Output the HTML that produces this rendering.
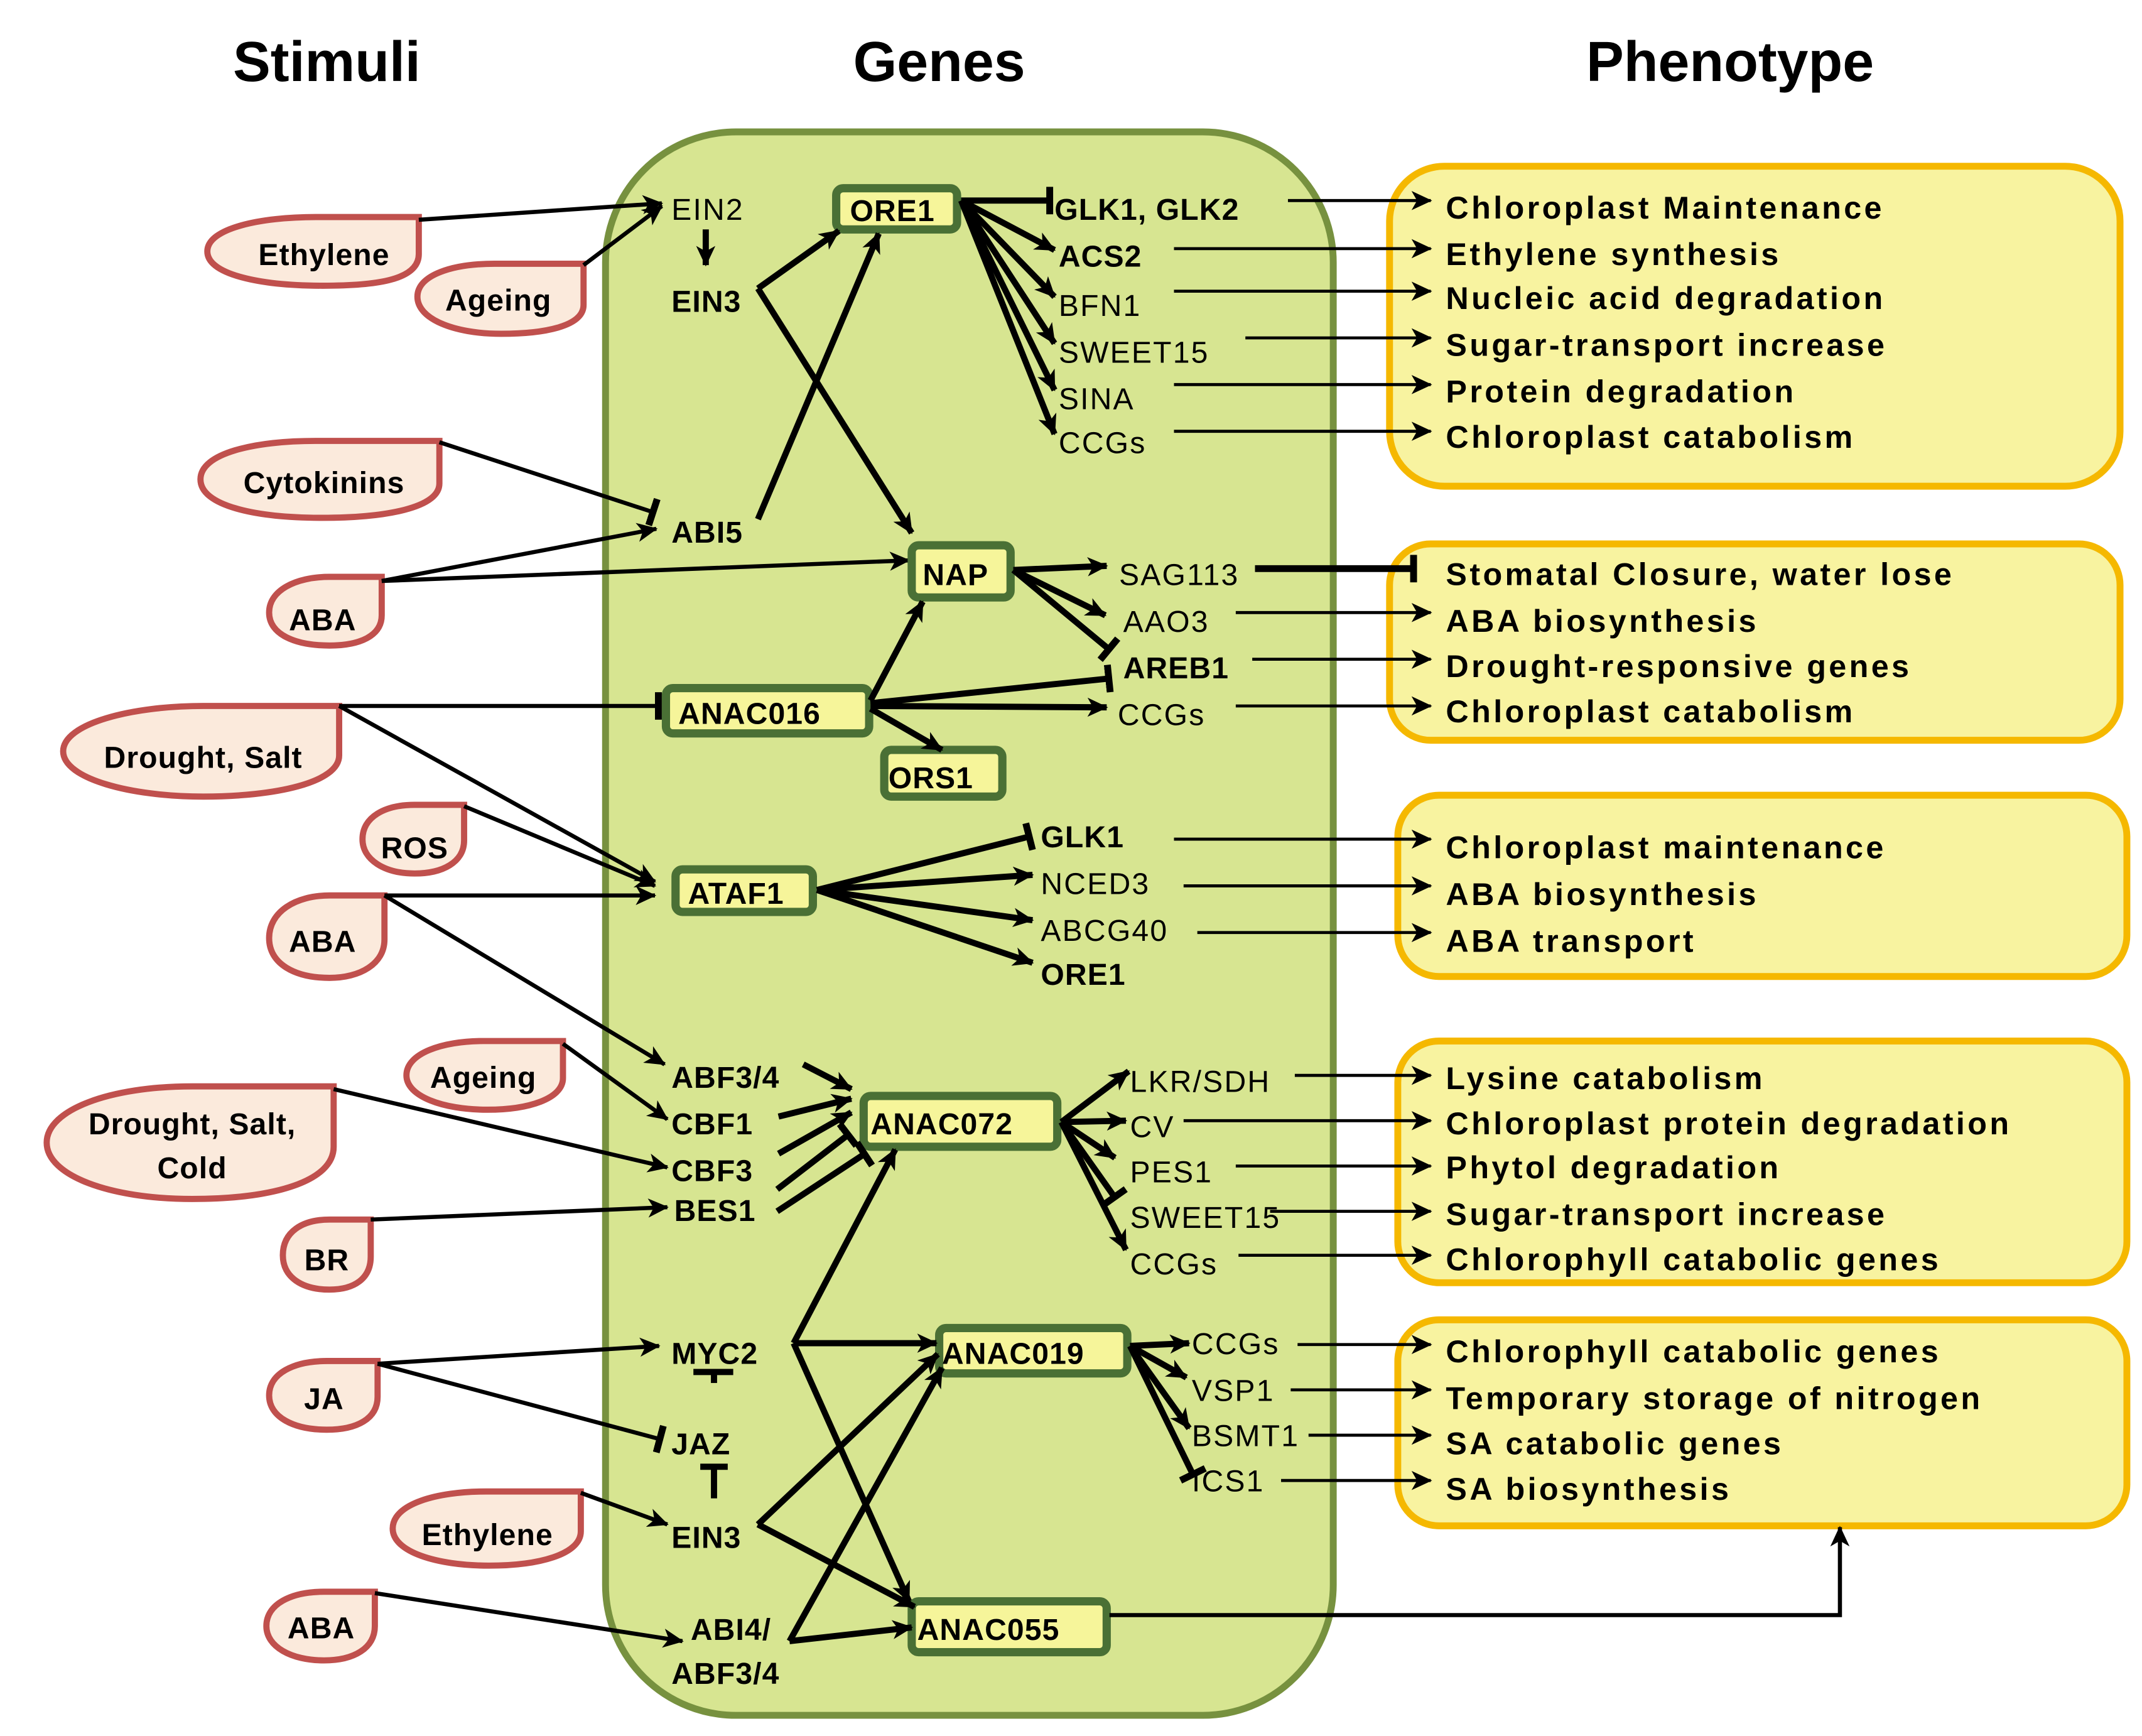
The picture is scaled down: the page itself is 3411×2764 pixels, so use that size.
<!DOCTYPE html>
<html><head><meta charset="utf-8"><style>
html,body{margin:0;padding:0;background:#fff;}
svg{display:block;}
text{font-family:"Liberation Sans",Arial,sans-serif;fill:#000;}
.t{font-size:41px;font-weight:bold;text-anchor:middle;}
.s{font-size:22px;font-weight:bold;text-anchor:middle;letter-spacing:0.5px;}
.g{font-size:22px;letter-spacing:1px;}
.gb{font-size:22px;font-weight:bold;letter-spacing:0.5px;}
.p{font-size:23px;font-weight:bold;letter-spacing:2px;}
.st{fill:#fbeadc;stroke:#c0504d;stroke-width:4.5;}
.bx{fill:#f6f59a;stroke:#4a7035;stroke-width:6;}
.ph{fill:#f8f3a0;stroke:#f5b800;stroke-width:5;}
.l{stroke:#000;stroke-width:3;fill:none;}
.k{stroke:#000;stroke-width:4.5;fill:none;}
.n{stroke:#000;stroke-width:2.2;fill:none;}
</style></head><body>
<svg width="3411" height="2764" viewBox="0 0 1560 1264" xmlns="http://www.w3.org/2000/svg">
<defs>
<marker id="a" markerUnits="userSpaceOnUse" markerWidth="20" markerHeight="20" refX="14" refY="7" orient="auto"><path d="M0,0 L15,7 L0,14 L4,7 Z" fill="#000"/></marker>
<marker id="t" markerUnits="userSpaceOnUse" markerWidth="10" markerHeight="24" refX="3" refY="12" orient="auto"><rect x="0" y="2" width="5" height="20" fill="#000"/></marker>
</defs>

<text class="t" x="238" y="59">Stimuli</text>
<text class="t" x="684" y="59">Genes</text>
<text class="t" x="1260" y="59">Phenotype</text>

<rect x="441" y="96" width="530" height="1153" rx="95" fill="#d7e591" stroke="#77913f" stroke-width="5"/>

<rect class="ph" x="1012" y="121" width="532" height="233" rx="40"/>
<rect class="ph" x="1012" y="396" width="532" height="143" rx="30"/>
<rect class="ph" x="1018" y="579" width="531" height="132" rx="30"/>
<rect class="ph" x="1018" y="758" width="531" height="176" rx="30"/>
<rect class="ph" x="1018" y="961" width="531" height="150" rx="30"/>

<g>
<path class="st" d="M305,158 V185 C305,205 270,208 235,208 C190,208 151,200 151,183 C151,166 190,158 230,158 Z"/>
<path class="st" d="M425,192 V222 C425,238 395,243 365,243 C330,243 304,232 304,216 C304,200 330,192 360,192 Z"/>
<path class="st" d="M320,321 V352 C320,370 280,377 235,377 C185,377 146,368 146,349 C146,330 185,321 230,321 Z"/>
<path class="st" d="M278,420 V448 C278,463 262,470 240,470 C215,470 196,462 196,446 C196,430 215,420 240,420 Z"/>
<path class="st" d="M247,514 V550 C247,570 200,580 148,580 C95,580 46,567 46,547 C46,527 95,514 148,514 Z"/>
<path class="st" d="M338,586 V612 C338,628 322,636 302,636 C280,636 264,626 264,611 C264,595 280,586 302,586 Z"/>
<path class="st" d="M280,652 V684 C280,702 262,712 240,712 C215,712 196,702 196,683 C196,664 215,652 240,652 Z"/>
<path class="st" d="M410,758 V785 C410,800 385,808 355,808 C322,808 296,798 296,783 C296,767 322,758 352,758 Z"/>
<path class="st" d="M243,791 V835 C243,860 200,873 140,873 C80,873 34,856 34,832 C34,808 80,791 140,791 Z"/>
<path class="st" d="M270,888 V915 C270,931 258,939 240,939 C220,939 206,930 206,914 C206,897 220,888 240,888 Z"/>
<path class="st" d="M275,991 V1017 C275,1033 260,1041 238,1041 C214,1041 196,1032 196,1016 C196,1000 214,991 238,991 Z"/>
<path class="st" d="M423,1086 V1115 C423,1132 392,1140 356,1140 C318,1140 286,1130 286,1113 C286,1095 318,1086 354,1086 Z"/>
<path class="st" d="M273,1159 V1184 C273,1200 258,1209 236,1209 C212,1209 194,1199 194,1184 C194,1168 212,1159 236,1159 Z"/>
</g>
<text class="s" x="236" y="193">Ethylene</text>
<text class="s" x="363" y="226">Ageing</text>
<text class="s" x="236" y="359">Cytokinins</text>
<text class="s" x="235" y="459">ABA</text>
<text class="s" x="148" y="559">Drought, Salt</text>
<text class="s" x="302" y="625">ROS</text>
<text class="s" x="235" y="693">ABA</text>
<text class="s" x="352" y="792">Ageing</text>
<text class="s" x="140" y="826">Drought, Salt,</text>
<text class="s" x="140" y="858">Cold</text>
<text class="s" x="238" y="925">BR</text>
<text class="s" x="236" y="1026">JA</text>
<text class="s" x="355" y="1125">Ethylene</text>
<text class="s" x="234" y="1193">ABA</text>

<g class="l">
<line x1="305" y1="160" x2="482" y2="148" marker-end="url(#a)"/>
<line x1="425" y1="193" x2="482" y2="150" marker-end="url(#a)"/>
<line x1="320" y1="322" x2="476" y2="373" marker-end="url(#t)"/>
<line x1="278" y1="423" x2="478" y2="385" marker-end="url(#a)"/>
<line x1="278" y1="423" x2="662" y2="408" marker-end="url(#a)"/>
<line x1="247" y1="514" x2="480" y2="514" marker-end="url(#t)"/>
<line x1="247" y1="514" x2="477" y2="642" marker-end="url(#a)"/>
<line x1="338" y1="587" x2="477" y2="645" marker-end="url(#a)"/>
<line x1="280" y1="652" x2="477" y2="652" marker-end="url(#a)"/>
<line x1="280" y1="652" x2="484" y2="775" marker-end="url(#a)"/>
<line x1="410" y1="760" x2="486" y2="815" marker-end="url(#a)"/>
<line x1="243" y1="793" x2="486" y2="850" marker-end="url(#a)"/>
<line x1="270" y1="888" x2="486" y2="879" marker-end="url(#a)"/>
<line x1="275" y1="993" x2="480" y2="980" marker-end="url(#a)"/>
<line x1="275" y1="993" x2="481" y2="1048" marker-end="url(#t)"/>
<line x1="423" y1="1087" x2="486" y2="1110" marker-end="url(#a)"/>
<line x1="273" y1="1160" x2="497" y2="1195" marker-end="url(#a)"/>
</g>

<rect class="bx" x="609" y="137" width="88" height="30" rx="5"/>
<rect class="bx" x="664" y="397" width="72" height="38" rx="5"/>
<rect class="bx" x="485" y="501" width="148" height="33" rx="5"/>
<rect class="bx" x="644" y="546" width="86" height="34" rx="5"/>
<rect class="bx" x="492" y="633" width="100" height="31" rx="5"/>
<rect class="bx" x="629" y="798" width="141" height="37" rx="5"/>
<rect class="bx" x="684" y="967" width="137" height="33" rx="5"/>
<rect class="bx" x="664" y="1166" width="142" height="37" rx="5"/>

<text class="gb" x="619" y="161">ORE1</text>
<text class="gb" x="672" y="426">NAP</text>
<text class="gb" x="494" y="527">ANAC016</text>
<text class="gb" x="647" y="574">ORS1</text>
<text class="gb" x="501" y="658">ATAF1</text>
<text class="gb" x="634" y="826">ANAC072</text>
<text class="gb" x="686" y="993">ANAC019</text>
<text class="gb" x="668" y="1194">ANAC055</text>

<text class="g" x="489" y="160">EIN2</text>
<text class="gb" x="489" y="227">EIN3</text>
<text class="gb" x="489" y="395">ABI5</text>
<text class="gb" x="489" y="792">ABF3/4</text>
<text class="gb" x="489" y="826">CBF1</text>
<text class="gb" x="489" y="860">CBF3</text>
<text class="gb" x="491" y="889">BES1</text>
<text class="gb" x="489" y="993">MYC2</text>
<text class="gb" x="489" y="1059">JAZ</text>
<text class="gb" x="489" y="1127">EIN3</text>
<text class="gb" x="503" y="1194">ABI4/</text>
<text class="gb" x="489" y="1226">ABF3/4</text>

<text class="gb" x="768" y="160">GLK1, GLK2</text>
<text class="gb" x="771" y="194">ACS2</text>
<text class="g" x="771" y="230">BFN1</text>
<text class="g" x="771" y="264">SWEET15</text>
<text class="g" x="771" y="298">SINA</text>
<text class="g" x="771" y="330">CCGs</text>
<text class="g" x="815" y="426">SAG113</text>
<text class="g" x="818" y="460">AAO3</text>
<text class="gb" x="818" y="494">AREB1</text>
<text class="g" x="814" y="528">CCGs</text>
<text class="gb" x="758" y="617">GLK1</text>
<text class="g" x="758" y="651">NCED3</text>
<text class="g" x="758" y="685">ABCG40</text>
<text class="gb" x="758" y="717">ORE1</text>
<text class="g" x="823" y="795">LKR/SDH</text>
<text class="g" x="823" y="828">CV</text>
<text class="g" x="823" y="861">PES1</text>
<text class="g" x="823" y="894">SWEET15</text>
<text class="g" x="823" y="928">CCGs</text>
<text class="g" x="868" y="986">CCGs</text>
<text class="g" x="868" y="1020">VSP1</text>
<text class="g" x="868" y="1053">BSMT1</text>
<text class="g" x="868" y="1086">ICS1</text>

<g class="k">
<line x1="514" y1="167" x2="514" y2="193" marker-end="url(#a)"/>
<line x1="552" y1="210" x2="611" y2="168" marker-end="url(#a)"/>
<line x1="552" y1="210" x2="664" y2="388" marker-end="url(#a)"/>
<line x1="552" y1="378" x2="640" y2="170" marker-end="url(#a)"/>
<line x1="700" y1="146" x2="765" y2="146" marker-end="url(#t)"/>
<line x1="700" y1="146" x2="768" y2="182" marker-end="url(#a)"/>
<line x1="700" y1="146" x2="768" y2="216" marker-end="url(#a)"/>
<line x1="700" y1="146" x2="768" y2="250" marker-end="url(#a)"/>
<line x1="700" y1="146" x2="768" y2="284" marker-end="url(#a)"/>
<line x1="700" y1="146" x2="768" y2="316" marker-end="url(#a)"/>
<line x1="738" y1="415" x2="806" y2="412" marker-end="url(#a)"/>
<line x1="738" y1="415" x2="805" y2="448" marker-end="url(#a)"/>
<line x1="738" y1="415" x2="808" y2="473" marker-end="url(#t)"/>
<line x1="634" y1="510" x2="672" y2="438" marker-end="url(#a)"/>
<line x1="634" y1="512" x2="808" y2="494" marker-end="url(#t)"/>
<line x1="634" y1="514" x2="806" y2="515" marker-end="url(#a)"/>
<line x1="634" y1="516" x2="686" y2="546" marker-end="url(#a)"/>
<line x1="595" y1="648" x2="750" y2="609" marker-end="url(#t)"/>
<line x1="595" y1="648" x2="752" y2="637" marker-end="url(#a)"/>
<line x1="595" y1="648" x2="752" y2="670" marker-end="url(#a)"/>
<line x1="595" y1="648" x2="752" y2="701" marker-end="url(#a)"/>
<line x1="585" y1="775" x2="620" y2="793" marker-end="url(#a)"/>
<line x1="567" y1="813" x2="620" y2="800" marker-end="url(#a)"/>
<line x1="567" y1="840" x2="620" y2="810" marker-end="url(#a)"/>
<line x1="566" y1="866" x2="618" y2="826" marker-end="url(#t)"/>
<line x1="566" y1="882" x2="630" y2="840" marker-end="url(#t)"/>
<line x1="578" y1="978" x2="652" y2="837" marker-end="url(#a)"/>
<line x1="578" y1="978" x2="682" y2="978" marker-end="url(#a)"/>
<line x1="578" y1="978" x2="662" y2="1166" marker-end="url(#a)"/>
<line x1="552" y1="1110" x2="683" y2="986" marker-end="url(#a)"/>
<line x1="552" y1="1110" x2="666" y2="1170" marker-end="url(#a)"/>
<line x1="575" y1="1195" x2="686" y2="996" marker-end="url(#a)"/>
<line x1="575" y1="1195" x2="664" y2="1185" marker-end="url(#a)"/>
<line x1="773" y1="817" x2="822" y2="780" marker-end="url(#a)"/>
<line x1="773" y1="817" x2="820" y2="816" marker-end="url(#a)"/>
<line x1="773" y1="817" x2="812" y2="843" marker-end="url(#a)"/>
<line x1="773" y1="817" x2="812" y2="872" marker-end="url(#t)"/>
<line x1="773" y1="817" x2="820" y2="910" marker-end="url(#a)"/>
<line x1="823" y1="980" x2="866" y2="978" marker-end="url(#a)"/>
<line x1="823" y1="980" x2="864" y2="1003" marker-end="url(#a)"/>
<line x1="823" y1="980" x2="866" y2="1040" marker-end="url(#a)"/>
<line x1="823" y1="980" x2="869" y2="1074" marker-end="url(#t)"/>
<line x1="505" y1="999" x2="534" y2="999"/>
<line x1="520" y1="999" x2="520" y2="1007"/>
<line x1="510" y1="1068" x2="530" y2="1068"/>
<line x1="520" y1="1068" x2="520" y2="1091"/>
</g>
<g class="l">
<polyline points="808,1176 1340,1176 1340,1112" marker-end="url(#a)"/>
</g>

<g class="n">
<line x1="938" y1="146" x2="1042" y2="146" marker-end="url(#a)"/>
<line x1="855" y1="181" x2="1042" y2="181" marker-end="url(#a)"/>
<line x1="855" y1="212" x2="1042" y2="212" marker-end="url(#a)"/>
<line x1="907" y1="246" x2="1042" y2="246" marker-end="url(#a)"/>
<line x1="855" y1="280" x2="1042" y2="280" marker-end="url(#a)"/>
<line x1="855" y1="314" x2="1042" y2="314" marker-end="url(#a)"/>
<line x1="914" y1="414" x2="1030" y2="414" style="stroke-width:5" marker-end="url(#t)"/>
<line x1="900" y1="446" x2="1042" y2="446" marker-end="url(#a)"/>
<line x1="912" y1="480" x2="1042" y2="480" marker-end="url(#a)"/>
<line x1="900" y1="514" x2="1042" y2="514" marker-end="url(#a)"/>
<line x1="855" y1="611" x2="1042" y2="611" marker-end="url(#a)"/>
<line x1="862" y1="645" x2="1042" y2="645" marker-end="url(#a)"/>
<line x1="872" y1="679" x2="1042" y2="679" marker-end="url(#a)"/>
<line x1="943" y1="783" x2="1042" y2="783" marker-end="url(#a)"/>
<line x1="862" y1="816" x2="1042" y2="816" marker-end="url(#a)"/>
<line x1="900" y1="849" x2="1042" y2="849" marker-end="url(#a)"/>
<line x1="925" y1="882" x2="1042" y2="882" marker-end="url(#a)"/>
<line x1="902" y1="914" x2="1042" y2="914" marker-end="url(#a)"/>
<line x1="945" y1="979" x2="1042" y2="979" marker-end="url(#a)"/>
<line x1="940" y1="1012" x2="1042" y2="1012" marker-end="url(#a)"/>
<line x1="953" y1="1045" x2="1042" y2="1045" marker-end="url(#a)"/>
<line x1="933" y1="1078" x2="1042" y2="1078" marker-end="url(#a)"/>
</g>

<g>
<text class="p" x="1053" y="159">Chloroplast Maintenance</text>
<text class="p" x="1053" y="193">Ethylene synthesis</text>
<text class="p" x="1053" y="225">Nucleic acid degradation</text>
<text class="p" x="1053" y="259">Sugar-transport increase</text>
<text class="p" x="1053" y="293">Protein degradation</text>
<text class="p" x="1053" y="326">Chloroplast catabolism</text>
<text class="p" x="1053" y="426">Stomatal  Closure, water  lose</text>
<text class="p" x="1053" y="460">ABA  biosynthesis</text>
<text class="p" x="1053" y="493">Drought-responsive genes</text>
<text class="p" x="1053" y="526">Chloroplast catabolism</text>
<text class="p" x="1053" y="625">Chloroplast maintenance</text>
<text class="p" x="1053" y="659">ABA  biosynthesis</text>
<text class="p" x="1053" y="693">ABA  transport</text>
<text class="p" x="1053" y="793">Lysine catabolism</text>
<text class="p" x="1053" y="826">Chloroplast protein degradation</text>
<text class="p" x="1053" y="858">Phytol degradation</text>
<text class="p" x="1053" y="892">Sugar-transport increase</text>
<text class="p" x="1053" y="925">Chlorophyll catabolic genes</text>
<text class="p" x="1053" y="992">Chlorophyll catabolic genes</text>
<text class="p" x="1053" y="1026">Temporary  storage of nitrogen</text>
<text class="p" x="1053" y="1059">SA catabolic genes</text>
<text class="p" x="1053" y="1092">SA biosynthesis</text>
</g>
</svg>
</body></html>
